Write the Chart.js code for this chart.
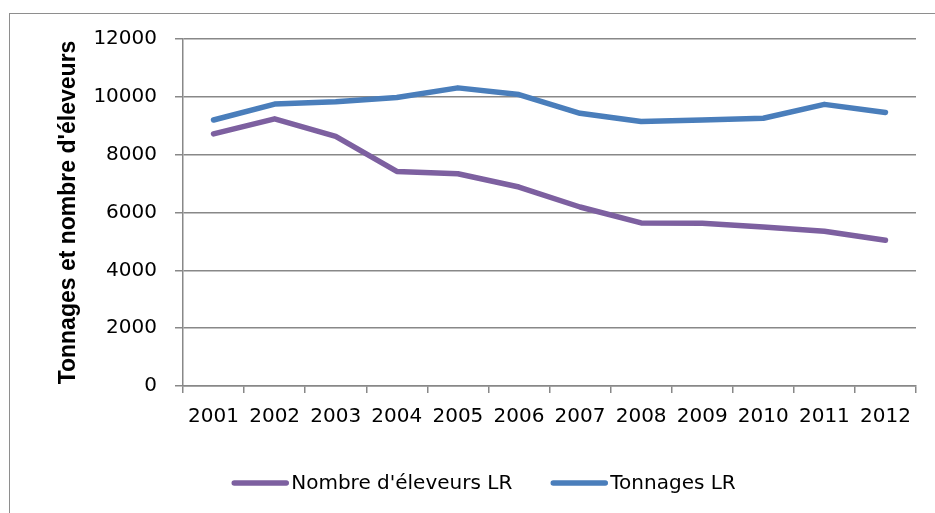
<!DOCTYPE html>
<html>
<head>
<meta charset="utf-8">
<title>Tonnages et nombre d'éleveurs LR</title>
<script src="https://cdn.jsdelivr.net/npm/chart.js@4"></script>
<style>
    html, body { margin: 0; padding: 0; background: #fff; overflow: hidden; }
    #frame { position: absolute; left: 9px; top: 13px; width: 1000px; height: 600px; border: 1.5px solid #8e8e8e; }
    #wrap  { position: absolute; left: 0; top: 0; width: 935px; height: 513px; }
</style>
</head>
<body>
<div id="frame"></div>
<div id="wrap"><canvas id="chart" width="935" height="513"></canvas></div>
<script>
/* Données */
var years    = ['2001','2002','2003','2004','2005','2006','2007','2008','2009','2010','2011','2012'];
var eleveurs = [8720, 9240, 8630, 7420, 7340, 6880, 6190, 5640, 5630, 5500, 5350, 5040];
var tonnages = [9200, 9750, 9830, 9980, 10310, 10080, 9430, 9150, 9200, 9260, 9740, 9460];
var yTicks   = [0, 2000, 4000, 6000, 8000, 10000, 12000];
var seriesNames = ["Nombre d'éleveurs LR", 'Tonnages LR'];

var GRID  = '#888888';
var FONT  = 'DejaVu Sans';

/* ── Legend drawn by hand so spacing matches the original ── */
var legendPlugin = {
    id: 'bottomLegend',
    afterDraw: function(chart) {
        var ctx = chart.ctx;
        var ds = chart.data.datasets;
        var lineW = 56, gap = 3, between = 39, y = 483;
        ctx.save();
        ctx.font = '20px "' + FONT + '"';
        var total = 0;
        ds.forEach(function(d, i) {
            total += lineW + gap + ctx.measureText(d.label).width;
            if (i < ds.length - 1) total += between;
        });
        var x = 484 - total / 2;
        ds.forEach(function(d) {
            ctx.strokeStyle = d.borderColor;
            ctx.lineWidth = 5.5;
            ctx.lineCap = 'round';
            ctx.beginPath();
            ctx.moveTo(x + 2, y);
            ctx.lineTo(x + lineW - 2, y);
            ctx.stroke();
            x += lineW + gap;
            ctx.fillStyle = '#000';
            ctx.textBaseline = 'middle';
            ctx.textAlign = 'left';
            ctx.fillText(d.label, x, y + 1);
            x += ctx.measureText(d.label).width + between;
        });
        ctx.restore();
    }
};

new Chart(document.getElementById('chart'), {
    type: 'line',
    data: {
        labels: years,
        datasets: [
            {label: seriesNames[0], data: eleveurs, borderColor: '#7D60A0', backgroundColor: '#7D60A0',
             borderWidth: 5.5, pointRadius: 0, tension: 0, borderCapStyle: 'round', borderJoinStyle: 'round'},
            {label: seriesNames[1], data: tonnages, borderColor: '#4A7EBB', backgroundColor: '#4A7EBB',
             borderWidth: 5.5, pointRadius: 0, tension: 0, borderCapStyle: 'round', borderJoinStyle: 'round'}
        ]
    },
    options: {
        responsive: false,
        animation: false,
        devicePixelRatio: 1,
        layout: {padding: {left: 55, right: 19, top: 39, bottom: 0}},
        plugins: {legend: {display: false}, tooltip: {enabled: false}},
        scales: {
            x: {
                offset: true,
                grid: {offset: true, drawOnChartArea: false, drawTicks: true, tickLength: 7, color: GRID, lineWidth: 1.5},
                border: {color: GRID, width: 1.5},
                ticks: {color: '#000', font: {family: FONT, size: 20}, padding: 12, maxRotation: 0, autoSkip: false},
                afterFit: function(s) { s.height = 127; }
            },
            y: {
                min: yTicks[0],
                max: yTicks[yTicks.length - 1],
                afterBuildTicks: function(s) { s.ticks = yTicks.map(function(v) { return {value: v}; }); },
                grid: {color: GRID, lineWidth: 1.5, tickLength: 8},
                border: {color: GRID, width: 1.5},
                ticks: {color: '#000', font: {family: FONT, size: 20}, padding: 18,
                        callback: function(v) { return String(v); }},
                title: {display: true, text: "Tonnages et nombre d'éleveurs", color: '#000',
                        font: {family: 'Liberation Sans', size: 23, weight: 'bold'}, padding: 0},
                afterFit: function(s) { s.width = 128; }
            }
        }
    },
    plugins: [legendPlugin]
});
</script>
</body>
</html>
